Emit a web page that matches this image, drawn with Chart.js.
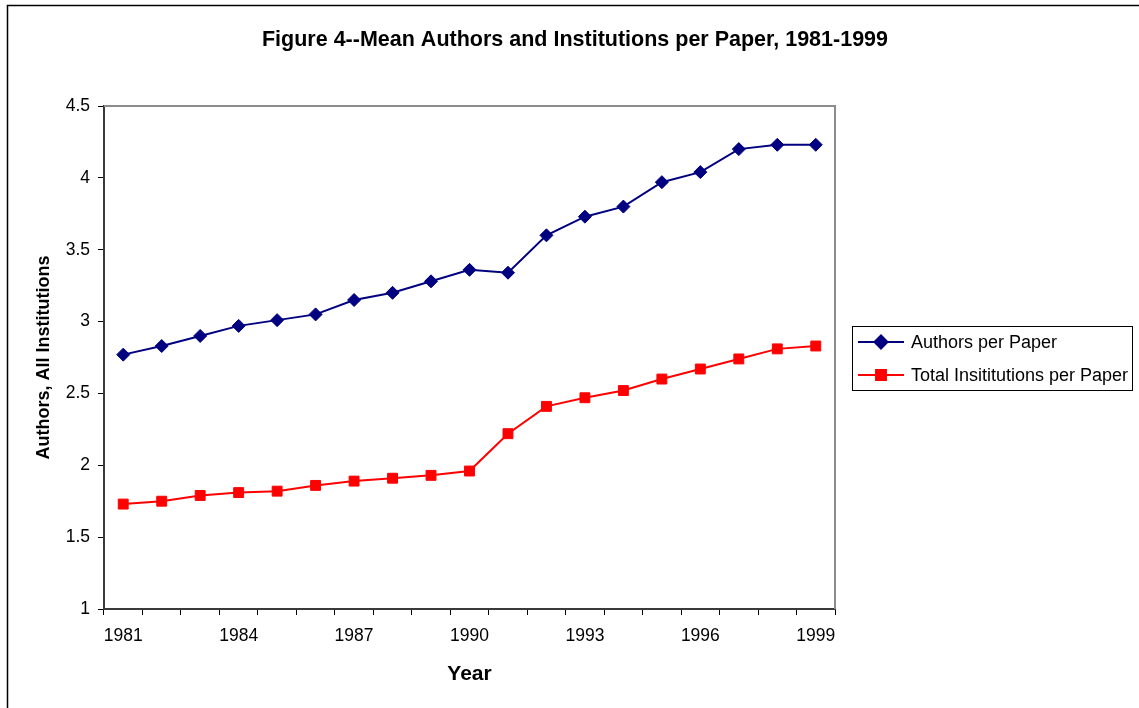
<!DOCTYPE html>
<html>
<head>
<meta charset="utf-8">
<script src="https://cdn.jsdelivr.net/npm/chart.js@4/dist/chart.umd.min.js"></script>
<style>
  html, body { margin: 0; padding: 0; background: #fff; overflow: hidden; }
  #wrap { position: relative; width: 1139px; height: 708px; }
</style>
</head>
<body>
<div id="wrap"><canvas id="chart" width="1139" height="708"></canvas></div>
<script>
// Publication years on the category axis
const years = ['1981','1982','1983','1984','1985','1986','1987','1988','1989','1990',
               '1991','1992','1993','1994','1995','1996','1997','1998','1999'];

// Mean number of authors per paper
const authorsPerPaper = [2.77, 2.83, 2.90, 2.97, 3.01, 3.05, 3.15, 3.20, 3.28, 3.36,
                         3.34, 3.60, 3.73, 3.80, 3.97, 4.04, 4.20, 4.23, 4.23];

// Mean number of institutions per paper
const institutionsPerPaper = [1.73, 1.75, 1.79, 1.81, 1.82, 1.86, 1.89, 1.91, 1.93, 1.96,
                              2.22, 2.41, 2.47, 2.52, 2.60, 2.67, 2.74, 2.81, 2.83];

// Series names
const seriesNames = ['Authors per Paper', 'Total Insititutions per Paper'];

// Value axis range and spacing
const yMin = 1;
const yMax = 4.5;
const yStep = 0.5;

// Only every third year is labelled
const yearLabelEvery = 3;

const FONT = "'Liberation Sans', Arial, Helvetica, sans-serif";
const titleText = 'Figure 4--Mean Authors and Institutions per Paper, 1981-1999';

// White background and the outer frame
const framePlugin = {
  id: 'frame',
  beforeDraw(chart) {
    const ctx = chart.ctx;
    ctx.save();
    ctx.fillStyle = '#fff';
    ctx.fillRect(0, 0, chart.width, chart.height);
    ctx.strokeStyle = '#000';
    ctx.lineWidth = 1.5;
    ctx.beginPath();
    ctx.moveTo(chart.width + 5, 5.5);
    ctx.lineTo(7.5, 5.5);
    ctx.lineTo(7.5, chart.height + 5);
    ctx.stroke();
    ctx.restore();
  }
};

// Grey top and right edges of the plot area
const plotEdgePlugin = {
  id: 'plotEdge',
  beforeDatasetsDraw(chart) {
    const { ctx, chartArea: a } = chart;
    ctx.save();
    ctx.strokeStyle = '#8c8c8c';
    ctx.lineWidth = 2;
    ctx.beginPath();
    ctx.moveTo(a.left, a.top);
    ctx.lineTo(a.right, a.top);
    ctx.lineTo(a.right, a.bottom);
    ctx.stroke();
    ctx.restore();
  }
};

// Chart heading
const headingPlugin = {
  id: 'heading',
  afterDraw(chart) {
    const ctx = chart.ctx;
    ctx.save();
    ctx.fillStyle = '#000';
    ctx.font = 'bold 21.5px ' + FONT;
    ctx.textAlign = 'center';
    ctx.textBaseline = 'middle';
    ctx.fillText(titleText, 575, 40);
    ctx.restore();
  }
};

// Boxed legend with a line-and-marker sample per series
const boxLegendPlugin = {
  id: 'boxLegend',
  afterDraw(chart) {
    const ctx = chart.ctx;
    const box = { x: 852.5, y: 326.5, w: 280, h: 64 };
    ctx.save();
    ctx.strokeStyle = '#000';
    ctx.lineWidth = 1;
    ctx.strokeRect(box.x, box.y, box.w, box.h);
    const rowY = [342, 375];
    chart.data.datasets.forEach((ds, i) => {
      const y = rowY[i];
      ctx.strokeStyle = ds.borderColor;
      ctx.lineWidth = 2;
      ctx.beginPath();
      ctx.moveTo(858, y);
      ctx.lineTo(904, y);
      ctx.stroke();
      ctx.fillStyle = ds.pointBackgroundColor;
      ctx.strokeStyle = ds.pointBorderColor;
      Chart.helpers.drawPoint(ctx, {
        pointStyle: ds.pointStyle,
        radius: ds.pointRadius,
        rotation: 0,
        borderWidth: 1
      }, 881, y);
      ctx.fillStyle = '#000';
      ctx.font = '18px ' + FONT;
      ctx.textAlign = 'left';
      ctx.textBaseline = 'middle';
      ctx.fillText(ds.label, 911, y + 1);
    });
    ctx.restore();
  }
};

new Chart(document.getElementById('chart'), {
  type: 'line',
  data: {
    labels: years,
    datasets: [
      {
        label: seriesNames[0],
        data: authorsPerPaper,
        borderColor: '#000080',
        backgroundColor: '#000080',
        borderWidth: 2,
        pointStyle: 'rectRot',
        pointRadius: 6.5,
        pointBackgroundColor: '#000080',
        pointBorderColor: '#000080',
        pointBorderWidth: 1,
        tension: 0
      },
      {
        label: seriesNames[1],
        data: institutionsPerPaper,
        borderColor: '#ff0000',
        backgroundColor: '#ff0000',
        borderWidth: 2,
        pointStyle: 'rect',
        pointRadius: 7,
        pointBackgroundColor: '#ff0000',
        pointBorderColor: '#ff0000',
        pointBorderWidth: 1,
        tension: 0
      }
    ]
  },
  options: {
    responsive: false,
    animation: false,
    devicePixelRatio: 1,
    layout: { padding: { left: 20, right: 304, top: 106, bottom: 19 } },
    plugins: {
      legend: { display: false },
      title: { display: false },
      tooltip: { enabled: false }
    },
    scales: {
      x: {
        type: 'category',
        offset: true,
        afterFit(scale) { scale.height = 80; },
        grid: {
          offset: true,
          drawOnChartArea: false,
          drawTicks: true,
          tickLength: 6,
          color: '#000',
          lineWidth: 1
        },
        border: { display: true, color: '#3a3a3a', width: 2 },
        ticks: {
          autoSkip: false,
          maxRotation: 0,
          minRotation: 0,
          padding: 11,
          color: '#000',
          font: { family: FONT, size: 17.5 },
          callback(value, index) {
            return index % yearLabelEvery === 0 ? years[index] : '';
          }
        },
        title: {
          display: true,
          text: 'Year',
          color: '#000',
          font: { family: FONT, size: 21, weight: 'bold' },
          padding: { top: 0, bottom: 2 }
        }
      },
      y: {
        min: yMin,
        max: yMax,
        afterFit(scale) { scale.width = 84; },
        grid: {
          drawOnChartArea: false,
          drawTicks: true,
          tickLength: 6,
          color: '#000',
          lineWidth: 1
        },
        border: { display: true, color: '#3a3a3a', width: 2 },
        ticks: {
          stepSize: yStep,
          padding: 8,
          color: '#000',
          font: { family: FONT, size: 17.5 },
          callback(value) { return String(value); }
        },
        title: {
          display: true,
          text: 'Authors, All Institutions',
          color: '#000',
          font: { family: FONT, size: 18, weight: 'bold' },
          padding: { top: 13, bottom: 0 }
        }
      }
    }
  },
  plugins: [framePlugin, plotEdgePlugin, headingPlugin, boxLegendPlugin]
});
</script>
</body>
</html>
